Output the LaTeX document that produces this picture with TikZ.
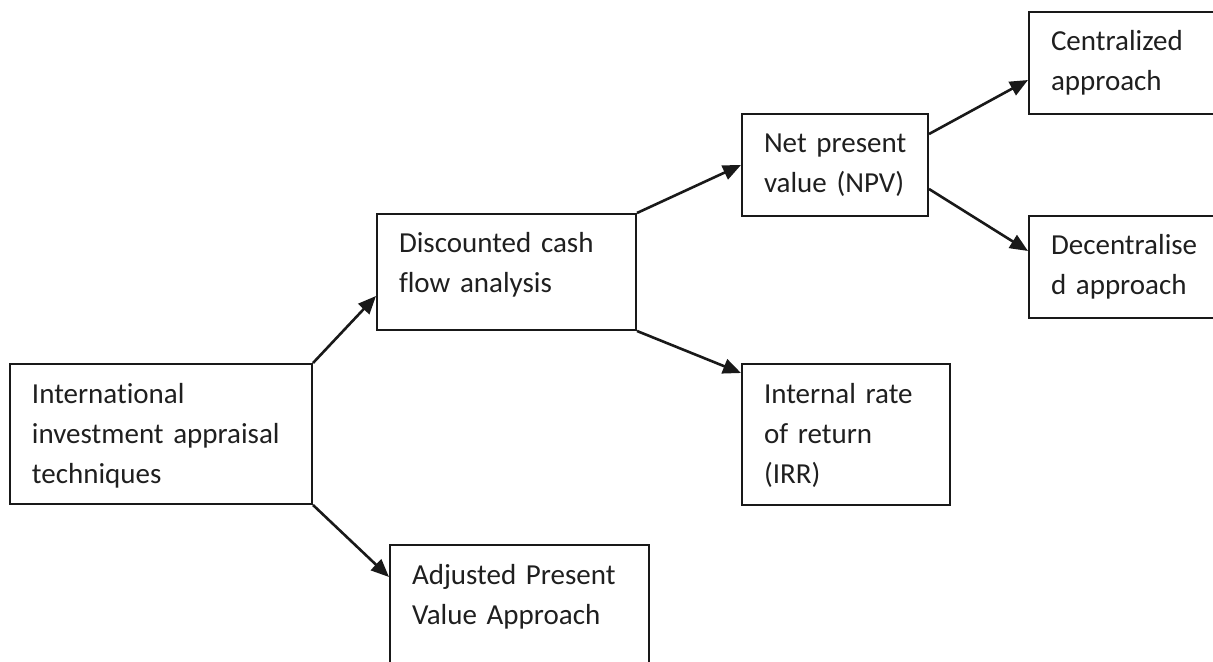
\documentclass[tikz,border=0pt]{standalone}
\usepackage{fontspec}
\setmainfont{Carlito}[Ligatures=NoCommon]
\usetikzlibrary{arrows.meta}

\begin{document}
\begin{tikzpicture}
  [x=0.5pt,y=-0.5pt,
   stage/.style={draw=black!90,line width=1pt,anchor=north west,align=left,
     inner xsep=11pt,inner ysep=5.5pt,text height=14pt,
     font=\fontsize{14.5}{20}\selectfont,text=black!88},
   flow/.style={draw=black!90,line width=1.3pt,-{Triangle[length=9pt,width=7.5pt]}}]
  \useasboundingbox (0,0) rectangle (1213,662);

  \node[stage,text width=129pt,text depth=45pt] (int) at (9,363)
    {International\\investment appraisal\\techniques};
  \node[stage,text width=107.5pt,text depth=33pt] (disc) at (376,213)
    {Discounted cash\\flow analysis};
  \node[stage,inner xsep=9pt,text width=75pt,text depth=26pt] (npv) at (741,113)
    {\hspace*{2pt}Net present\\\hspace*{2pt}value (NPV)};
  \node[stage,text width=82pt,text depth=45.5pt] (irr) at (741,363)
    {Internal rate\\of return\\(IRR)};
  \node[stage,text width=80pt,text depth=26pt] (cent) at (1028,11)
    {Centralized\\approach};
  \node[stage,text width=80pt,text depth=26pt] (dec) at (1028,215)
    {Decentralise\\d approach};
  \node[stage,text width=107.5pt,text depth=50pt] (adj) at (389,544)
    {Adjusted Present\\Value Approach};

  \draw[flow] (int.north east) -- ([yshift=-12pt]disc.west);
  \draw[flow] (int.south east) -- ([yshift=-16.5pt]adj.north west);
  \draw[flow] (disc.north east) -- (npv.west);
  \draw[flow] (disc.south east) -- ([yshift=-5pt]irr.north west);
  \draw[flow] ([yshift=15.5pt]npv.east) -- ([yshift=-8.5pt]cent.west);
  \draw[flow] ([yshift=-12pt]npv.east) -- ([yshift=8pt]dec.west);

\end{tikzpicture}
\end{document}
